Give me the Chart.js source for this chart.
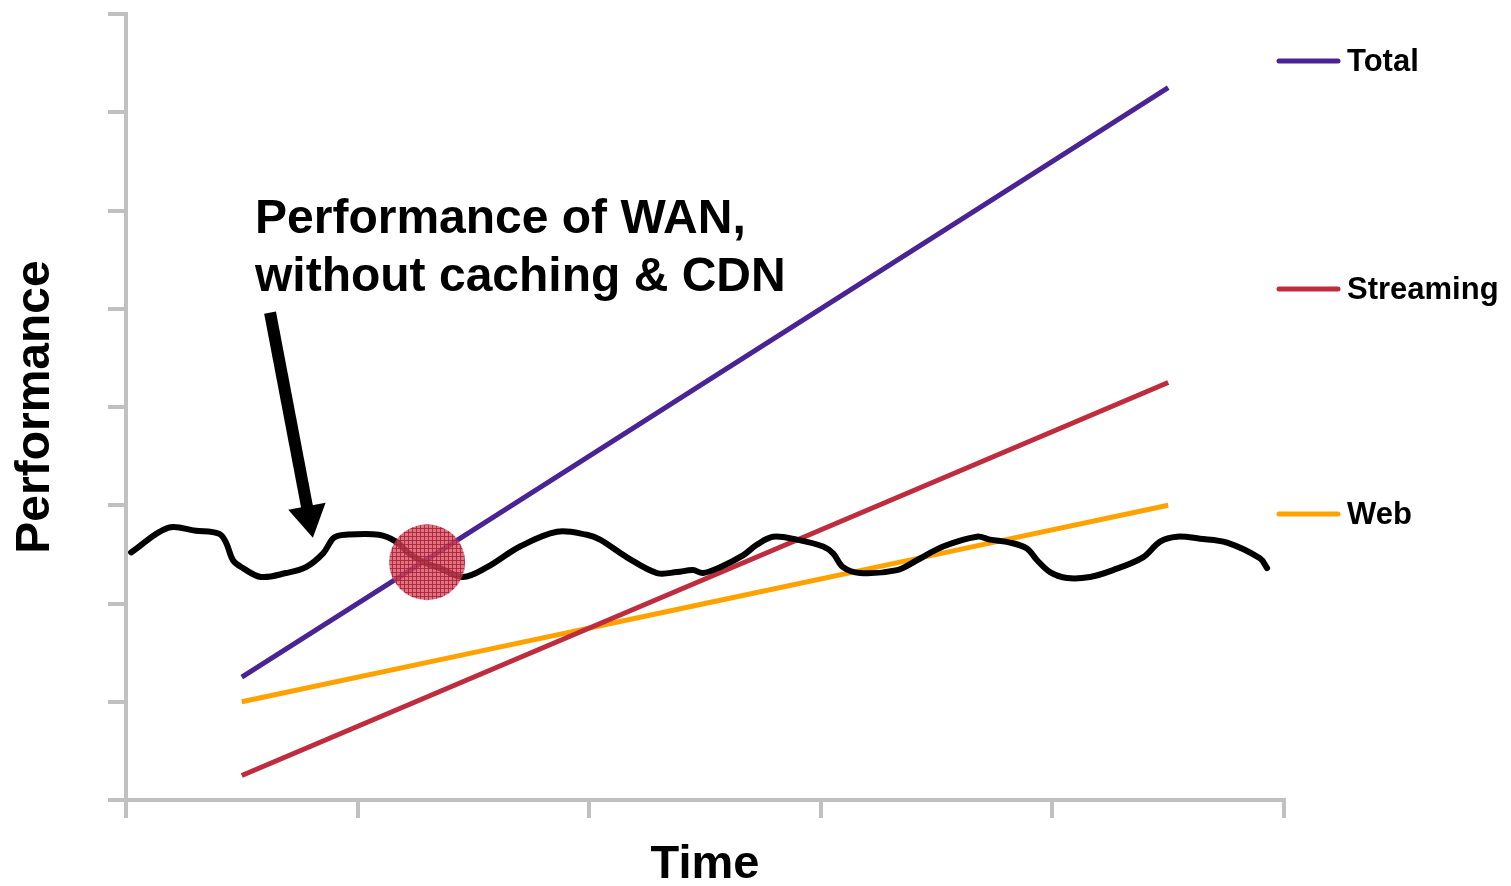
<!DOCTYPE html>
<html>
<head>
<meta charset="utf-8">
<script src="https://cdn.jsdelivr.net/npm/chart.js@4"></script>
<style>
  html, body { margin: 0; padding: 0; background: #fff; }
  #wrap { width: 1511px; height: 886px; }
</style>
</head>
<body>
<div id="wrap"><canvas id="myChart" width="1511" height="886"></canvas></div>
<script>
// time positions (middle of each time slot) and the three demand series
const timePos = [0.5, 1.5, 2.5, 3.5, 4.5];
const total = [1.25, 2.75, 4.25, 5.75, 7.25];
const streaming = [0.25, 1.25, 2.25, 3.25, 4.25];
const web = [1.0, 1.5, 2.0, 2.5, 3.0];

// hand drawn WAN performance curve
const wanX = [0.022, 0.181, 0.302, 0.402, 0.432, 0.462, 0.505, 0.583, 0.691, 0.777, 0.851, 0.898, 0.950,
  1.092, 1.166, 1.222, 1.295, 1.356, 1.455, 1.559, 1.701, 1.861, 1.990, 2.047, 2.163, 2.293, 2.379,
  2.448, 2.491, 2.565, 2.664, 2.725, 2.794, 2.897, 3.010, 3.053, 3.096, 3.169, 3.329, 3.415, 3.528,
  3.674, 3.731, 3.817, 3.890, 3.934, 3.990, 4.063, 4.162, 4.262, 4.391, 4.465, 4.538, 4.637, 4.754,
  4.896, 4.927];
const wanY = [2.52, 2.77, 2.74, 2.71, 2.62, 2.44, 2.36, 2.27, 2.31, 2.37, 2.51, 2.67, 2.70,
  2.70, 2.63, 2.51, 2.41, 2.36, 2.27, 2.37, 2.58, 2.73, 2.70, 2.65, 2.47, 2.31, 2.32,
  2.34, 2.31, 2.37, 2.49, 2.60, 2.68, 2.65, 2.58, 2.51, 2.37, 2.31, 2.34, 2.44, 2.58,
  2.68, 2.65, 2.62, 2.56, 2.44, 2.32, 2.26, 2.27, 2.34, 2.47, 2.63, 2.68, 2.66, 2.62,
  2.46, 2.36];

// crossing point marker
const hotX = [1.30];
const hotY = [2.42];

// annotation: text anchor and arrow (data units)
const noteLines = ['Performance of WAN,', 'without caching & CDN'];
const noteAt = [0.557, 5.77];
const arrowFrom = [0.622, 4.96];
const arrowTo = [0.807, 2.67];

const seriesNames = ['Total', 'Streaming', 'Web'];
const seriesColors = ['#4a2494', '#be2c3e', '#ffa200'];

const axisGrey = '#c0c0c0';
const boldFont = "'Liberation Sans', Arial, sans-serif";

// cross hatch fill for the marker
const pat = document.createElement('canvas');
pat.width = 4; pat.height = 4;
const pctx = pat.getContext('2d');
pctx.fillStyle = 'rgba(206, 80, 98, 0.78)';
pctx.fillRect(0, 0, 4, 4);
pctx.fillStyle = 'rgba(180, 24, 50, 0.82)';
pctx.fillRect(0, 0, 4, 1);
pctx.fillRect(0, 0, 1, 4);
const ctx = document.getElementById('myChart').getContext('2d');
const hatch = ctx.createPattern(pat, 'repeat');

const toPts = (xs, ys) => xs.map((x, i) => ({ x, y: ys[i] }));

const lineSet = (label, data, color) => ({
  label,
  data: toPts(timePos, data),
  borderColor: color,
  borderWidth: 5,
  pointRadius: 0,
  fill: false,
  order: 2
});

// draws the annotation, arrow and the legend on the right
const extras = {
  id: 'extras',
  afterDatasetsDraw(chart) {
    const c = chart.ctx;
    const xs = chart.scales.x, ys = chart.scales.y;
    c.save();

    // annotation text
    c.fillStyle = '#000';
    c.font = 'bold 48px ' + boldFont;
    c.textBaseline = 'alphabetic';
    c.textAlign = 'left';
    const tx = xs.getPixelForValue(noteAt[0]);
    const ty = ys.getPixelForValue(noteAt[1]);
    noteLines.forEach((t, i) => c.fillText(t, tx, ty + i * 58));

    // arrow
    const ax1 = xs.getPixelForValue(arrowFrom[0]), ay1 = ys.getPixelForValue(arrowFrom[1]);
    const ax2 = xs.getPixelForValue(arrowTo[0]), ay2 = ys.getPixelForValue(arrowTo[1]);
    const ang = Math.atan2(ay2 - ay1, ax2 - ax1);
    const headLen = 32, headW = 19;
    const bx = ax2 - headLen * Math.cos(ang), by = ay2 - headLen * Math.sin(ang);
    c.strokeStyle = '#000';
    c.lineWidth = 12;
    c.lineCap = 'butt';
    c.beginPath();
    c.moveTo(ax1, ay1);
    c.lineTo(bx + 2 * Math.cos(ang), by + 2 * Math.sin(ang));
    c.stroke();
    c.beginPath();
    c.moveTo(ax2, ay2);
    c.lineTo(bx + headW * Math.sin(ang), by - headW * Math.cos(ang));
    c.lineTo(bx - headW * Math.sin(ang), by + headW * Math.cos(ang));
    c.closePath();
    c.fill();

    // legend
    const legendY = [61, 289, 514];
    c.font = 'bold 31px ' + boldFont;
    c.textBaseline = 'middle';
    c.lineCap = 'round';
    c.lineWidth = 5;
    seriesNames.forEach((name, i) => {
      c.strokeStyle = seriesColors[i];
      c.beginPath();
      c.moveTo(1279, legendY[i]);
      c.lineTo(1338, legendY[i]);
      c.stroke();
      c.fillStyle = '#000';
      c.fillText(name, 1347, legendY[i] + 1);
    });
    c.restore();
  }
};

new Chart(ctx, {
  type: 'line',
  data: {
    datasets: [
      {
        label: 'crossing',
        data: toPts(hotX, hotY),
        showLine: false,
        pointRadius: 38,
        pointBorderWidth: 0,
        pointBackgroundColor: hatch,
        order: 0
      },
      {
        label: 'WAN',
        data: toPts(wanX, wanY),
        borderColor: '#000',
        borderWidth: 6,
        pointRadius: 0,
        tension: 0.35,
        borderCapStyle: 'round',
        borderJoinStyle: 'round',
        order: 1
      },
      lineSet(seriesNames[0], total, seriesColors[0]),
      lineSet(seriesNames[1], streaming, seriesColors[1]),
      lineSet(seriesNames[2], web, seriesColors[2])
    ]
  },
  options: {
    responsive: false,
    animation: false,
    events: [],
    layout: { autoPadding: false, padding: { left: 0, top: 14, right: 227, bottom: 0 } },
    plugins: { legend: { display: false }, tooltip: { enabled: false } },
    scales: {
      x: {
        type: 'linear',
        min: 0, max: 5,
        ticks: { stepSize: 1, display: false },
        grid: { drawOnChartArea: false, tickLength: 18, color: axisGrey, lineWidth: 4 },
        border: { color: axisGrey, width: 4 },
        title: { display: true, text: 'Time', color: '#000',
          font: { family: boldFont, size: 47, weight: 'bold', lineHeight: 0.9 }, padding: 0 },
        afterFit: s => { s.height = 86; }
      },
      y: {
        min: 0, max: 8,
        ticks: { stepSize: 1, display: false },
        grid: { drawOnChartArea: false, tickLength: 18, color: axisGrey, lineWidth: 4 },
        border: { color: axisGrey, width: 4 },
        title: { display: true, text: 'Performance', color: '#000',
          font: { family: boldFont, size: 48, weight: 'bold', lineHeight: 0.9 }, padding: { top: 14, bottom: 0 } },
        afterFit: s => { s.width = 126; }
      }
    }
  },
  plugins: [extras]
});
</script>
</body>
</html>
